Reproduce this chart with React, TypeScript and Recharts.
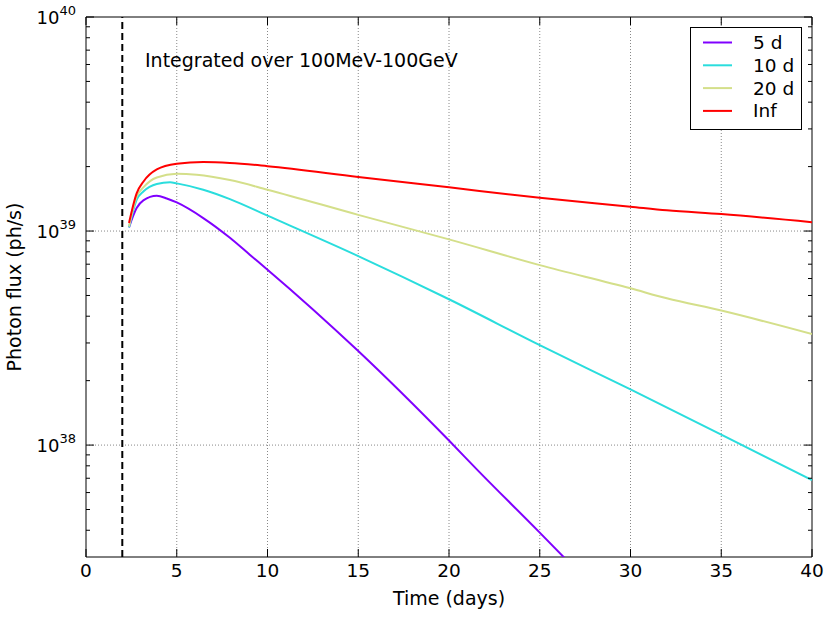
import { LineChart, Line, XAxis, YAxis, ReferenceLine, ReferenceArea, Legend } from 'recharts';

// time (days) and photon flux (ph/s), one pair of arrays per series
const time5d = [2.37, 2.79, 3.16, 3.9, 4.45, 5, 6.46, 7.93, 9.04, 10, 15, 20, 21.6, 25, 26.4];
const flux5d = [1.04e39, 1.28e39, 1.39e39, 1.46e39, 1.42e39, 1.36e39, 1.15e39, 9.3e38, 7.73e38, 6.6e38, 2.75e38, 1.05e38, 7.6e37, 3.9e37, 2.95e37];

const time10d = [2.37, 2.79, 3.16, 3.9, 4.63, 5, 6.46, 7.93, 10, 15, 20, 25, 30, 35, 40];
const flux10d = [1.04e39, 1.4e39, 1.53e39, 1.66e39, 1.69e39, 1.67e39, 1.56e39, 1.41e39, 1.18e39, 7.64e38, 4.8e38, 2.93e38, 1.82e38, 1.12e38, 6.86e37];

const time20d = [2.37, 2.79, 3.16, 3.9, 5, 6.1, 7.93, 10, 15, 20, 25, 30, 32, 35, 40];
const flux20d = [1.05e39, 1.45e39, 1.6e39, 1.78e39, 1.85e39, 1.83e39, 1.73e39, 1.56e39, 1.19e39, 9.14e38, 6.93e38, 5.4e38, 4.85e38, 4.25e38, 3.3e38];

const timeInf = [2.37, 2.79, 3.16, 3.9, 5, 6.46, 7.93, 10, 15, 20, 25, 30, 32, 35, 40];
const fluxInf = [1.09e39, 1.5e39, 1.7e39, 1.94e39, 2.06e39, 2.1e39, 2.08e39, 2.01e39, 1.79e39, 1.6e39, 1.43e39, 1.3e39, 1.25e39, 1.2e39, 1.1e39];

const seriesNames = ['5 d', '10 d', '20 d', 'Inf'];
const seriesColors = ['#8000ff', '#2adddd', '#d4df8a', '#ff0000'];

const xTicks = [0, 5, 10, 15, 20, 25, 30, 35, 40];
const xGrid = [5, 10, 15, 20, 25, 30, 35];
const yMajor = [1e38, 1e39, 1e40];
const yGrid = [1e38, 1e39];
const yMinorFactors = [2, 3, 4, 5, 6, 7, 8, 9];
const yDomain = [3e37, 1e40];
const injectionTime = 2;

const W = 830;
const H = 617;
const LEFT = 86;
const RIGHT = 812;
const TOP = 17;
const BOTTOM = 557;
const FONT = '"DejaVu Sans", sans-serif';

const yMinor = [1e37, 1e38, 1e39]
  .flatMap(d => yMinorFactors.map(f => f * d))
  .filter(v => v > yDomain[0] && v < yDomain[1]);
const yTicks = [...yMinor, ...yMajor].sort((a, b) => a - b);

const toRows = (ts: number[], fs: number[]) => ts.map((t, i) => ({ t, flux: fs[i] }));
const seriesData = [
  toRows(time5d, flux5d),
  toRows(time10d, flux10d),
  toRows(time20d, flux20d),
  toRows(timeInf, fluxInf),
];

const YTick = ({ y, payload }: any) => {
  const v = payload.value;
  const exp = Math.round(Math.log10(v));
  const major = Math.abs(v / Math.pow(10, exp) - 1) < 1e-6;
  const len = major ? 8 : 4;
  return (
    <g>
      <line x1={LEFT} x2={LEFT + len} y1={y} y2={y} stroke="#000" />
      <line x1={RIGHT - len} x2={RIGHT} y1={y} y2={y} stroke="#000" />
      {major && (
        <text x={LEFT - 10} y={y + 6.5} textAnchor="end" fontSize={18} fontFamily={FONT} fill="#000">
          10<tspan dy={-9} fontSize={13}>{exp}</tspan>
        </text>
      )}
    </g>
  );
};

const XTick = ({ x, payload }: any) => (
  <g>
    <line x1={x} x2={x} y1={BOTTOM} y2={BOTTOM - 8} stroke="#000" />
    <line x1={x} x2={x} y1={TOP} y2={TOP + 8} stroke="#000" />
    <text x={x} y={BOTTOM + 20} textAnchor="middle" fontSize={18.5} fontFamily={FONT} fill="#000">
      {payload.value}
    </text>
  </g>
);

const LegendBox = () => (
  <svg width={112} height={103} style={{ display: 'block' }}>
    <rect x={0.5} y={0.5} width={111} height={102} fill="#fff" stroke="#000" />
    {seriesNames.map((name, i) => {
      const cy = 15.5 + i * 22.8;
      return (
        <g key={name}>
          <line x1={13} x2={42} y1={cy} y2={cy} stroke={seriesColors[i]} strokeWidth={2} />
          <text x={63} y={cy + 6.5} fontSize={18.5} fontFamily={FONT} fill="#000">{name}</text>
        </g>
      );
    })}
  </svg>
);

export default function App() {
  return (
    <div style={{ position: 'absolute', left: 0, top: 0, width: W, height: H, background: '#fff' }}>
      <LineChart width={W} height={H} margin={{ top: TOP, right: W - RIGHT, left: 0, bottom: 0 }}>
        <XAxis
          type="number"
          dataKey="t"
          domain={[0, 40]}
          ticks={xTicks}
          allowDataOverflow
          axisLine={false}
          tickLine={false}
          tickSize={0}
          tickMargin={0}
          height={H - BOTTOM}
          tick={<XTick />}
        />
        <YAxis
          type="number"
          scale="log"
          domain={yDomain}
          ticks={yTicks}
          allowDataOverflow
          axisLine={false}
          tickLine={false}
          tickSize={0}
          tickMargin={0}
          width={LEFT}
          interval={0}
          tick={<YTick />}
        />
        {xGrid.map(v => (
          <ReferenceLine key={`gx${v}`} x={v} stroke="#888" strokeDasharray="1 2" strokeWidth={1} />
        ))}
        {yGrid.map(v => (
          <ReferenceLine key={`gy${v}`} y={v} stroke="#888" strokeDasharray="1 2" strokeWidth={1} />
        ))}
        <ReferenceLine x={injectionTime} stroke="#000" strokeWidth={2} strokeDasharray="7 4" />
        {seriesData.map((rows, i) => (
          <Line
            key={seriesNames[i]}
            data={rows}
            dataKey="flux"
            name={seriesNames[i]}
            type="monotone"
            stroke={seriesColors[i]}
            strokeWidth={2}
            dot={false}
            activeDot={false}
            isAnimationActive={false}
          />
        ))}
        <ReferenceArea x1={0} x2={40} y1={yDomain[0]} y2={yDomain[1]} fill="none" stroke="#000" strokeWidth={1} />
        <Legend
          layout="vertical"
          align="center"
          verticalAlign="middle"
          wrapperStyle={{ left: 690, top: 27, width: 112, height: 103 }}
          content={<LegendBox />}
        />
      </LineChart>
      <svg width={W} height={H} style={{ position: 'absolute', left: 0, top: 0, pointerEvents: 'none' }}>
        <text x={145} y={67} fontSize={19} fontFamily={FONT} fill="#000">Integrated over 100MeV-100GeV</text>
        <text x={(LEFT + RIGHT) / 2} y={605} textAnchor="middle" fontSize={19} fontFamily={FONT} fill="#000">
          Time (days)
        </text>
        <text
          transform={`translate(21, ${(TOP + BOTTOM) / 2}) rotate(-90)`}
          textAnchor="middle"
          fontSize={19}
          fontFamily={FONT}
          fill="#000"
        >
          Photon flux (ph/s)
        </text>
      </svg>
    </div>
  );
}
